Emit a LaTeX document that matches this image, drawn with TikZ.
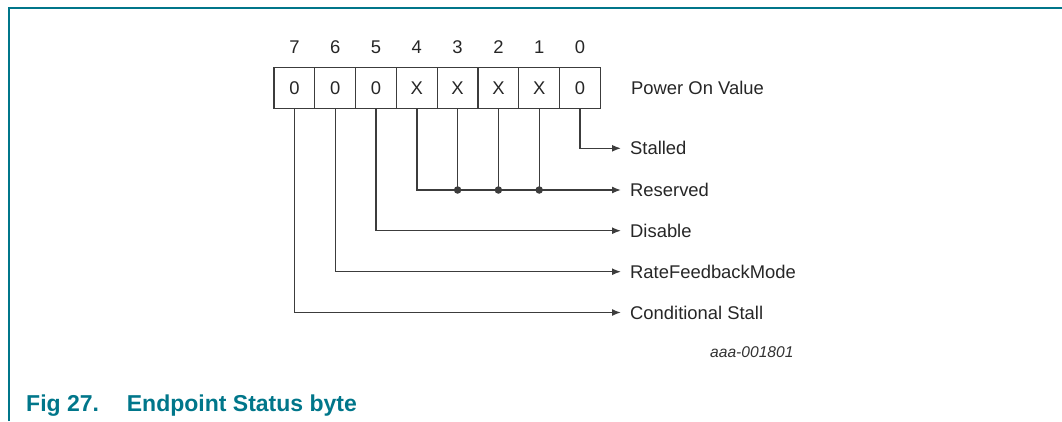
\documentclass[tikz,border=0pt]{standalone}
\usepackage{fontspec}
\setmainfont{Liberation Sans}
\usetikzlibrary{arrows.meta}
\definecolor{nxpteal}{RGB}{0,118,138}
\definecolor{ln}{RGB}{60,60,60}
\tikzset{
  cell/.style={draw=ln, line width=1.3pt, minimum width=40.8pt, minimum height=41pt, inner sep=0pt, font=\fontsize{18.4}{20}\selectfont, text=black!85},
  bitnum/.style={inner sep=0pt, font=\fontsize{18.4}{20}\selectfont, text height=13.2pt, text depth=0pt, text=black!85},
  lab/.style={anchor=west, inner ysep=0pt, inner xsep=0pt, text height=13.2pt, text depth=0pt, font=\fontsize{18.4}{20}\selectfont, text=black!85},
  conn/.style={draw=ln, line width=1.4pt},
  arr/.style={conn, -{Latex[length=9pt,width=7pt]}},
  dot/.style={circle, fill=ln, inner sep=0pt, minimum size=7.5pt},
}
\begin{document}
\begin{tikzpicture}[x=1pt,y=-1pt]
\useasboundingbox (0,0) rectangle (1062,421);
% frame
\draw[nxpteal, line width=2pt] (9,421) -- (9,8) -- (1062,8);
% cells
\foreach \i/\v [count=\k from 0] in {7/0,6/0,5/0,4/X,3/X,2/X,1/X,0/0}{
  \node[cell] (c\i) at ({294.4+40.8*\k},87.7) {\v};
  \node[bitnum] (b\i) at ({294.4+40.8*\k},47) {\i};
}
\node[lab] (pov) at (631,88) {Power On Value};
% labels (west anchor at the arrow tip)
\node[lab] (l0) at (621,148.3) {\hspace{9pt}Stalled};
\node[lab] (l1) at (621,190) {\hspace{9pt}Reserved};
\node[lab] (l5) at (621,230.7) {\hspace{9pt}Disable};
\node[lab] (l6) at (621,271.7) {\hspace{9pt}RateFeedbackMode};
\node[lab] (l7) at (621,312.5) {\hspace{9pt}Conditional Stall};
% connectors
\draw[arr] (c0.south) |- (l0.west);
\draw[arr] (c4.south) |- (l1.west);
\foreach \i in {3,2,1}{
  \draw[conn] (c\i.south) -- (c\i.south |- l1.west) node[dot] (d\i) {};
}
\draw[arr] (c5.south) |- (l5.west);
\draw[arr] (c6.south) |- (l6.west);
\draw[arr] (c7.south) |- (l7.west);
% id and caption
\node[anchor=base west, inner sep=0pt, font=\fontsize{15.6}{17}\selectfont\itshape, text=black!80] (id) at (710,357.6) {aaa-001801};
\node[anchor=base west, inner sep=0pt, font=\fontsize{23}{26}\selectfont\bfseries, text=nxpteal] (cap) at (26,411.5) {\makebox[100.7pt][l]{Fig 27.}Endpoint Status byte};
\end{tikzpicture}
\end{document}
